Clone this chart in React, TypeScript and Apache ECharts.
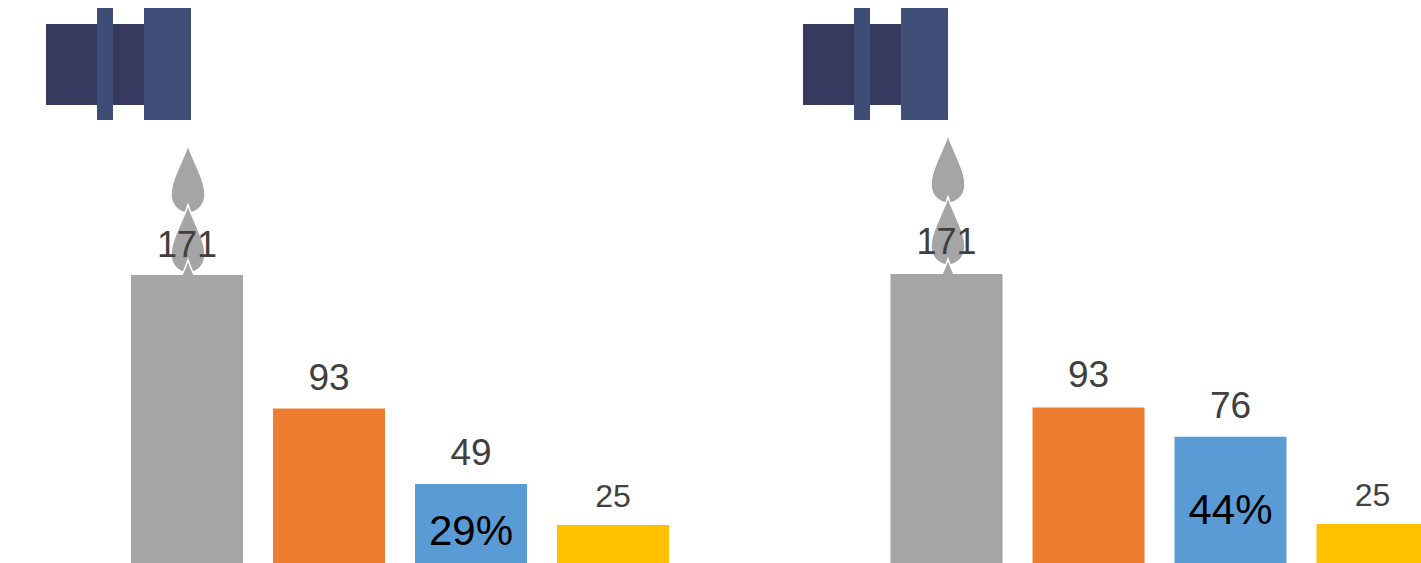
import React, { useEffect, useRef } from "react";
import * as echarts from "echarts";

const categories = ["A", "B", "C", "D"];
const leftValues = [171, 93, 49, 25];
const rightValues = [171, 93, 76, 25];
const leftShare = "29%";
const rightShare = "44%";
const barColors = ["#a5a5a5", "#ed7d31", "#5b9bd5", "#ffc000"];
const labelSizes = [36, 37, 37, 32];
const leftGaps = [13, 13, 13, 13];
const rightGaps = [15, 15, 13, 13];

const DROP = "M16 0 C21 16 33 34 33 50 C33 60 25 68 16 68 C7 68 -1 60 -1 50 C-1 34 11 16 16 0 Z";
const FONT = "'Liberation Sans', Arial, sans-serif";

function pipe(x0: number) {
  const r = (x: number, y: number, width: number, height: number, fill: string) => ({
    type: "rect", z: 1, shape: { x: x0 + x, y, width, height }, style: { fill },
  });
  return [
    r(0, 24, 98, 81, "#353a5e"),
    r(51, 8, 16, 112, "#3d4d76"),
    r(98, 8, 47, 112, "#404f77"),
  ];
}
function drops(cx: number, tips: number[]) {
  return tips.map((y, i) => ({
    type: "drop", z: 1 + i / 10, x: cx - 16, y,
    style: { fill: "#a5a5a5", stroke: "#ffffff", lineWidth: 1.5 },
  }));
}
function panelSeries(idx: number, values: number[], gaps: number[], share: string, dist: number) {
  return [
    {
      type: "bar", xAxisIndex: idx, yAxisIndex: idx, barWidth: 112, barGap: "-100%", z: 3,
      data: values.map((v, i) => ({
        value: v,
        itemStyle: { color: barColors[i] },
        label: { fontSize: labelSizes[i], distance: gaps[i] },
      })),
      label: { show: true, position: "top", color: "#404040", fontFamily: FONT },
    },
    {
      type: "bar", xAxisIndex: idx, yAxisIndex: idx, barWidth: 112, barGap: "-100%", z: 4,
      itemStyle: { color: "transparent" },
      data: values.map((v, i) => (i === 2 ? v : null)),
      label: {
        show: true, position: "insideBottom", distance: dist, fontSize: 42, color: "#000000",
        fontFamily: FONT, formatter: () => share,
      },
    },
  ];
}

export default function App() {
  const ref = useRef<HTMLDivElement>(null);
  useEffect(() => {
    document.body.style.margin = "0";
    echarts.graphic.registerShape("drop", echarts.graphic.extendPath(DROP, {}));
    const chart = echarts.init(ref.current!, undefined, { renderer: "svg" });
    const axisOff = { show: false };
    chart.setOption({
      animation: false,
      backgroundColor: "#ffffff",
      grid: [
        { left: 116, top: 225.4, width: 568, height: 342.4, outerBoundsMode: "none" },
        { left: 875.5, top: 224.4, width: 568, height: 342.4, outerBoundsMode: "none" },
      ],
      xAxis: [
        { type: "category", gridIndex: 0, data: categories, ...axisOff },
        { type: "category", gridIndex: 1, data: categories, ...axisOff },
      ],
      yAxis: [
        { type: "value", gridIndex: 0, min: 0, max: 200, ...axisOff },
        { type: "value", gridIndex: 1, min: 0, max: 200, ...axisOff },
      ],
      series: [
        ...panelSeries(0, leftValues, leftGaps, leftShare, 16),
        ...panelSeries(1, rightValues, rightGaps, rightShare, 36),
      ],
      graphic: [
        ...pipe(46), ...pipe(803),
        ...drops(188, [145, 205, 260]),
        ...drops(948, [135, 197, 259]),
      ],
    });
    return () => chart.dispose();
  }, []);
  return <div ref={ref} style={{ position: "absolute", left: 0, top: 0, width: 1421, height: 563, overflow: "hidden" }} />;
}
